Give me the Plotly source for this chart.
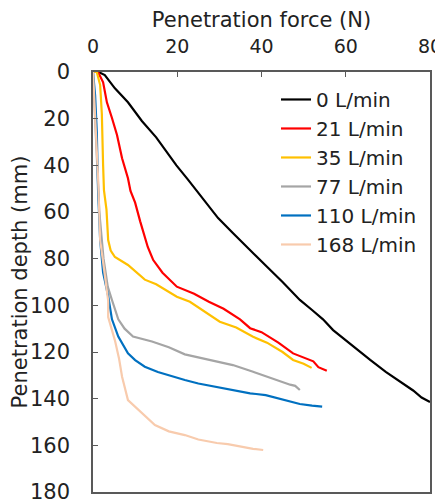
import plotly.graph_objects as go

names = ["0 L/min", "21 L/min", "35 L/min", "77 L/min", "110 L/min", "168 L/min"]
colors = ["#000000", "#FF0000", "#FFC000", "#A5A5A5", "#0070C0", "#F8CBAD"]

force_0 = [0, 1.3, 2.8, 5.2, 8.3, 11.6, 15, 19.8, 22.5, 25.4, 29.7, 33.2, 37, 41.3, 45, 49.1, 52, 54.6, 57, 61, 65.8, 69.5, 72.9, 76, 78, 80]
depth_0 = [0, 0, 1.3, 7, 13, 21, 28, 40, 46, 52.7, 62.6, 69, 76, 83.5, 90, 97.7, 102, 106, 110.6, 116.5, 123.4, 128.5, 132.8, 136.5, 139.5, 141.4]

force_21 = [0, 1.2, 2.4, 3.3, 4.5, 5.7, 6.9, 8.3, 8.9, 10.0, 11.2, 11.9, 13, 14.3, 16.5, 19.9, 24, 27.5, 31, 34.9, 37.3, 40, 44, 47.5, 50, 52.3, 53.5, 55.5]
depth_21 = [0, 0, 4.4, 13, 19.7, 27, 37, 45.5, 51, 56, 64, 68, 75, 80.6, 86, 92, 95, 98.5, 101.5, 106, 109.8, 111.5, 116, 120.6, 122.5, 124, 126.5, 128]

force_35 = [0, 0.9, 1.7, 2.1, 2.4, 2.6, 3.2, 3.6, 4.2, 5.2, 8.3, 12.3, 15, 18.3, 19.9, 23, 27.8, 30.1, 34, 38, 41.3, 45, 47.5, 50, 51.9]
depth_35 = [0, 0, 5.6, 18, 40, 50.6, 59, 72, 76.5, 79.3, 82.7, 89, 91, 94.5, 96.3, 98.5, 104, 107, 109.5, 113.5, 116, 120, 123.4, 125, 126.8]

force_77 = [0, 0.5, 1, 1.5, 2.5, 3.5, 4.5, 6, 7.5, 9.5, 14, 18, 21.8, 27, 33.2, 38, 41.3, 44, 46.8, 48, 49.1]
depth_77 = [0, 20, 40, 60, 80, 92, 97.7, 106, 110, 113.4, 115.5, 118, 121, 123, 125.6, 128.5, 130.6, 132.5, 134, 134.5, 136.3]

force_110 = [0, 0.5, 0.9, 1.2, 1.7, 2.4, 3.6, 4, 4.5, 6, 8.3, 10, 12.3, 15.4, 19, 21.8, 25, 29.4, 33, 37.3, 41, 45.1, 49.1, 52, 54.4]
depth_110 = [0, 10, 25.6, 50.6, 72, 86, 96, 100, 106, 113.4, 120.6, 123.5, 126.3, 128.6, 130.6, 132, 133.5, 135, 136.5, 137.7, 138.5, 140.3, 142.3, 143, 143.4]

force_168 = [0, 0.6, 1.2, 1.7, 2.8, 3.6, 3.6, 5.2, 6.2, 6.9, 8.3, 11.6, 14.7, 18, 21.8, 25, 29.4, 32, 34.9, 38, 40.4]
depth_168 = [0, 20, 45, 72, 86, 98, 105, 115, 123, 130.6, 140.6, 146, 151.3, 154, 155.6, 157.5, 159, 159.5, 160.6, 161.5, 162]

x_ticks = [0, 20, 40, 60, 80]
y_ticks = [0, 20, 40, 60, 80, 100, 120, 140, 160, 180]

series = [
    (force_0, depth_0),
    (force_21, depth_21),
    (force_35, depth_35),
    (force_77, depth_77),
    (force_110, depth_110),
    (force_168, depth_168),
]

fig = go.Figure()
for (fx, dy), nm, col in zip(series, names, colors):
    fig.add_trace(go.Scatter(
        x=fx, y=dy, mode="lines", name=nm,
        line=dict(color=col, width=2.2),
    ))

FONT = "DejaVu Sans, Liberation Sans, Arial, sans-serif"
axis_col = "#595959"
txt_col = "#222222"

# page body has an 8px default margin, so the figure is sized/offset to compensate
fig.update_layout(
    width=445, height=500,
    margin=dict(l=85, r=23, t=64, b=16),
    paper_bgcolor="white", plot_bgcolor="white",
    font=dict(family=FONT, size=21, color=txt_col),
    showlegend=True,
    legend=dict(
        x=0.543, y=0.981, xanchor="left", yanchor="top",
        bgcolor="rgba(0,0,0,0)", borderwidth=0,
        font=dict(family=FONT, size=20, color=txt_col),
    ),
    xaxis=dict(
        side="top", range=[0, 80], tickvals=x_ticks,
        ticks="inside", ticklen=5, tickcolor=axis_col,
        tickfont=dict(size=19),
        showline=True, linecolor=axis_col, linewidth=1.5, mirror=True,
        showgrid=False, zeroline=False, automargin=False,
        title=dict(text="Penetration force (N)", standoff=4, font=dict(size=21)),
        ticklabelstandoff=10, ticklabeloverflow="allow",
    ),
    yaxis=dict(
        range=[180, 0], tickvals=y_ticks,
        ticks="inside", ticklen=5, tickcolor=axis_col,
        showline=True, linecolor=axis_col, linewidth=1.5, mirror=True,
        showgrid=False, zeroline=False, automargin=False,
        title=dict(text="Penetration depth (mm)", standoff=0, font=dict(size=21)),
        ticklabelstandoff=17, ticklabeloverflow="allow",
    ),
)

fig.write_html("out.html")
